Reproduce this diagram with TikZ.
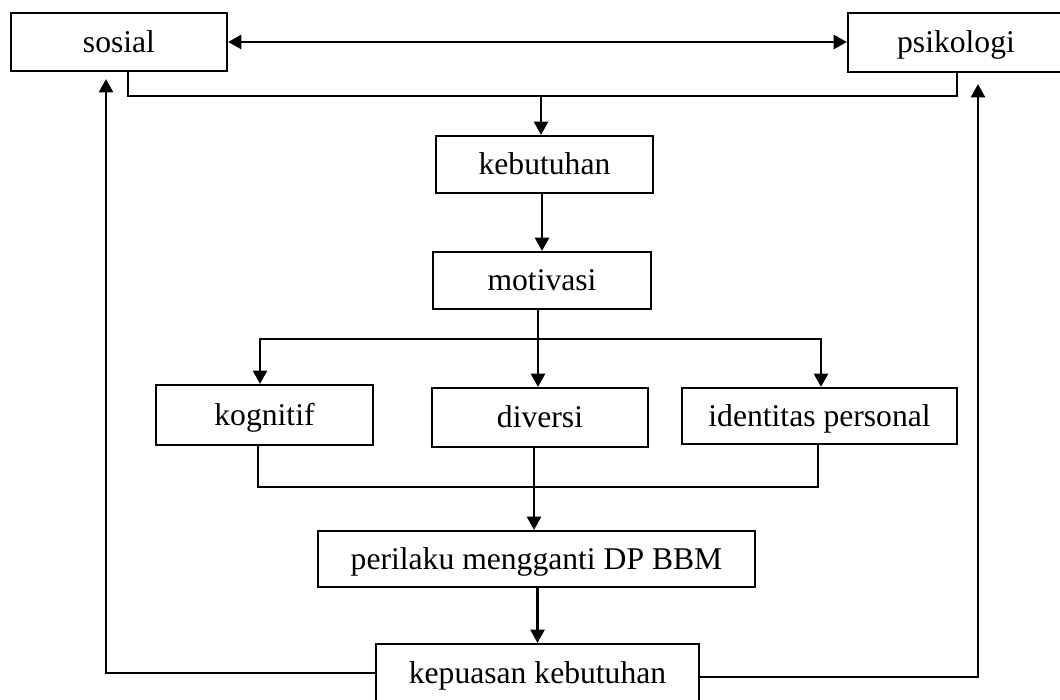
\documentclass[tikz,border=0pt]{standalone}
\usepackage{fontspec}
\setmainfont{Liberation Serif}
\usetikzlibrary{arrows.meta}
\tikzset{
  box/.style={draw,line width=1.3pt,fill=white,inner sep=0pt,text height=15pt,text depth=3.6pt,font=\fontsize{18}{21}\selectfont},
  ln/.style={line width=1.3pt},
  ar/.style={line width=1.3pt,-{Triangle[length=7.5pt,width=8pt]}},
  dar/.style={line width=1.3pt,{Triangle[length=7.5pt,width=8pt]}-{Triangle[length=7.5pt,width=8pt]}}
}
\begin{document}
\begin{tikzpicture}[x=0.02cm,y=-0.02cm]
\clip (0,0) rectangle (1060,699);
\fill[white] (0,0) rectangle (1060,699);
% boxes
\node[box,minimum width=4.32cm,minimum height=1.16cm] (sosial) at (119,42) {sosial};
\node[box,minimum width=4.32cm,minimum height=1.18cm] (psikologi) at (956,42.5) {psikologi};
\node[box,minimum width=4.34cm,minimum height=1.14cm] (kebutuhan) at (544.5,164.5) {kebutuhan};
\node[box,minimum width=4.36cm,minimum height=1.14cm] (motivasi) at (542,280.5) {motivasi};
\node[box,minimum width=4.34cm,minimum height=1.2cm] (kognitif) at (264.5,415) {kognitif};
\node[box,minimum width=4.32cm,minimum height=1.18cm] (diversi) at (540,417.5) {diversi};
\node[box,minimum width=5.5cm,minimum height=1.12cm] (identitas) at (819.5,416) {identitas personal};
\node[box,minimum width=8.74cm,minimum height=1.12cm] (perilaku) at (536.5,559) {perilaku mengganti DP BBM};
\node[box,minimum width=6.46cm,minimum height=1.16cm] (kepuasan) at (537.5,673) {kepuasan kebutuhan};
% joints
\coordinate (t0) at (541,96); \coordinate (t1) at (128,96); \coordinate (t2) at (957,96);
\coordinate (b0) at (538,339); \coordinate (b1) at (260,339); \coordinate (b2) at (821,339);
\coordinate (c0) at (534,487); \coordinate (c1) at (258,487); \coordinate (c2) at (818,487);
\coordinate (f1) at (106,673); \coordinate (f2) at (978,677);
% connectors
\draw[dar] (sosial.east) -- (sosial.east -| psikologi.west);
\draw[ln] (sosial.south -| t1) -- (t1) -- (t2) -- (psikologi.south -| t2);
\draw[ar] (t0) -- (kebutuhan.north -| t0);
\draw[ar] (kebutuhan.south -| motivasi.north) -- (motivasi.north);
\draw[ln] (motivasi.south -| b0) -- (b0);
\draw[ar] (b0) -- (diversi.north -| b0);
\draw[ar] (b0) -- (b1) -- (kognitif.north -| b1);
\draw[ar] (b0) -- (b2) -- (identitas.north -| b2);
\draw[ln] (kognitif.south -| c1) -- (c1) -- (c2) -- (identitas.south -| c2);
\draw[ar] (diversi.south -| c0) -- (perilaku.north -| c0);
\draw[ar] (perilaku.south -| kepuasan.north) -- (kepuasan.north);
\draw[ar,shorten >=0.14cm] (kepuasan.west |- f1) -- (f1) -- (sosial.south -| f1);
\draw[ar,shorten >=0.22cm] (kepuasan.east |- f2) -- (f2) -- (psikologi.south -| f2);
\end{tikzpicture}
\end{document}
